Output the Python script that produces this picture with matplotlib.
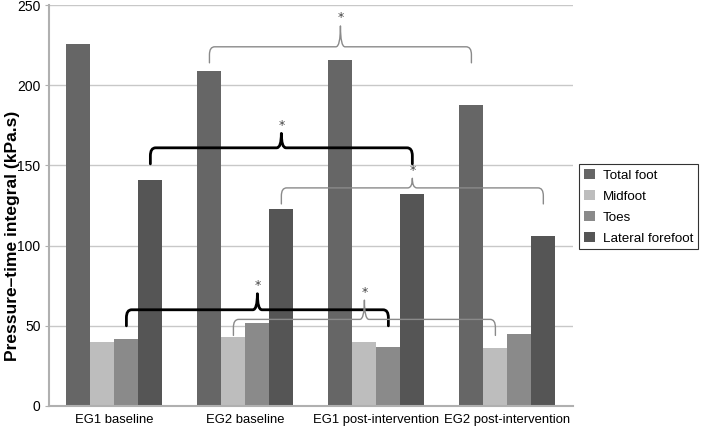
import numpy as np
import matplotlib
matplotlib.use("Agg")
import matplotlib.pyplot as plt
from matplotlib.path import Path
from matplotlib.patches import PathPatch

plt.rcParams['font.family'] = ['Liberation Sans', 'DejaVu Sans']

groups = ['EG1 baseline', 'EG2 baseline', 'EG1 post-intervention', 'EG2 post-intervention']
series = ['Total foot', 'Midfoot', 'Toes', 'Lateral forefoot']
total_foot = [226, 209, 216, 188]
midfoot = [40, 43, 40, 36]
toes = [42, 52, 37, 45]
lateral_forefoot = [141, 123, 132, 106]
colors = ['#666666', '#bdbdbd', '#8a8a8a', '#555555']

# significance braces: (group a, group b, series index, bar height, end height, tip height, thick)
brackets = [
    (1, 3, 0, 224, 214, 237, False),
    (0, 2, 3, 161, 151, 170, True),
    (1, 3, 3, 136, 126, 142, False),
    (0, 2, 2, 60, 50, 70, True),
    (1, 3, 1, 54, 44, 66, False),
]

w = 0.183
x = np.arange(len(groups))

fig = plt.figure(figsize=(7.09, 4.26), dpi=100)
ax = fig.add_axes([0.069, 0.047, 0.739, 0.941])

values = [total_foot, midfoot, toes, lateral_forefoot]
for j, (name, vals) in enumerate(zip(series, values)):
    ax.bar(x + (j - 1.5) * w, vals, w, color=colors[j], label=name, zorder=2)

ax.set_xlim(-0.5, 3.5)
ax.set_ylim(0, 250)
ax.set_yticks([0, 50, 100, 150, 200, 250])
ax.yaxis.grid(True, color='#c8c8c8', lw=1, zorder=0)
ax.set_axisbelow(True)
ax.set_xticks(x)
ax.set_xticklabels(groups, fontsize=9.4)
ax.tick_params(axis='x', length=0, pad=6)
ax.tick_params(axis='y', labelsize=10, length=3, color='#b0b0b0', pad=3)
for s in ['top', 'right']:
    ax.spines[s].set_visible(False)
for s in ['left', 'bottom']:
    ax.spines[s].set_color('#b0b0b0')
    ax.spines[s].set_linewidth(1.5)
ax.set_ylabel('Pressure\u2013time integral (kPa.s)', fontsize=12.5, fontweight='bold')
ax.yaxis.set_label_coords(-0.056, 0.425)


def brace(x0, x1, yb, ye, yt, thick):
    rx, ry, tx = 0.04, 5, 0.035
    xm = (x0 + x1) / 2
    verts = [(x0, ye), (x0, yb - ry), (x0, yb), (x0 + rx, yb),
             (xm - tx, yb), (xm, yb), (xm, yt),
             (xm, yb), (xm + tx, yb),
             (x1 - rx, yb), (x1, yb), (x1, yb - ry), (x1, ye)]
    codes = [Path.MOVETO, Path.LINETO, Path.CURVE3, Path.CURVE3,
             Path.LINETO, Path.CURVE3, Path.CURVE3,
             Path.CURVE3, Path.CURVE3,
             Path.LINETO, Path.CURVE3, Path.CURVE3, Path.LINETO]
    col = 'black' if thick else '#8a8a8a'
    lw = 2.0 if thick else 1.0
    ax.add_patch(PathPatch(Path(verts, codes), fill=False, ec=col, lw=lw, zorder=3,
                           capstyle='round', joinstyle='round'))
    ax.text(xm, yt + 1, '*', ha='center', va='bottom', fontsize=9,
            color='#444444', family='DejaVu Sans', zorder=4)


for a, b, j, yb, ye, yt, thick in brackets:
    brace(a + (j - 1.5) * w, b + (j - 1.5) * w, yb, ye, yt, thick)

leg = ax.legend(loc='upper left', bbox_to_anchor=(1.005, 0.613), fontsize=9.6,
                frameon=True, fancybox=False, edgecolor='black',
                handlelength=0.8, handleheight=0.8, handletextpad=0.6,
                labelspacing=0.62, borderpad=0.35, borderaxespad=0.3)
leg.get_frame().set_linewidth(0.8)

fig.savefig('out.png', dpi=100)
